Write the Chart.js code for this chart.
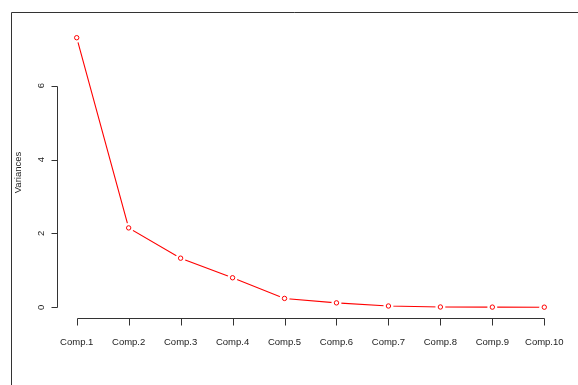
<!DOCTYPE html>
<html>
<head>
<meta charset="utf-8">
<script src="https://cdn.jsdelivr.net/npm/chart.js@4/dist/chart.umd.min.js"></script>
<style>
  html, body { margin: 0; padding: 0; background: #fff; }
  canvas { display: block; }
</style>
</head>
<body>
<canvas id="scree" width="578" height="385"></canvas>
<script>
var categories = ['Comp.1', 'Comp.2', 'Comp.3', 'Comp.4', 'Comp.5', 'Comp.6', 'Comp.7', 'Comp.8', 'Comp.9', 'Comp.10'];
var variances = [7.30, 2.15, 1.33, 0.80, 0.24, 0.12, 0.035, 0.008, 0.005, 0.003];
var yTicks = [0, 2, 4, 6];
var yTitle = 'Variances';

var points = variances.map(function (v, i) { return { x: i + 1, y: v }; });
var font = '9.5px "Liberation Sans", Arial, sans-serif';

// R-style axes, frame and labels, drawn from the chart's own scales
var rAxes = {
    id: 'rAxes',
    afterDraw: function (chart) {
        var c = chart.ctx;
        var xs = chart.scales.x, ys = chart.scales.y;
        var area = chart.chartArea;
        c.save();
        c.strokeStyle = '#333';
        c.fillStyle = '#222';
        c.lineWidth = 1;

        // outer frame (only top and left visible)
        c.beginPath();
        c.moveTo(11.5, 385);
        c.lineTo(11.5, 12.5);
        c.lineTo(578, 12.5);
        c.stroke();

        // x axis
        var xb = Math.round(area.bottom) + 0.5;
        var x1 = Math.round(xs.getPixelForValue(1)) + 0.5;
        var xn = Math.round(xs.getPixelForValue(categories.length)) + 0.5;
        c.beginPath();
        c.moveTo(x1, xb);
        c.lineTo(xn, xb);
        categories.forEach(function (lab, i) {
            var px = Math.round(xs.getPixelForValue(i + 1)) + 0.5;
            c.moveTo(px, xb);
            c.lineTo(px, xb + 7);
        });
        c.stroke();
        c.font = font;
        c.textAlign = 'center';
        c.textBaseline = 'middle';
        categories.forEach(function (lab, i) {
            c.fillText(lab, xs.getPixelForValue(i + 1), xb + 24);
        });

        // y axis
        var yl = Math.round(area.left) - 0.5;
        var y0 = Math.round(ys.getPixelForValue(yTicks[0])) + 0.5;
        var yt = Math.round(ys.getPixelForValue(yTicks[yTicks.length - 1])) + 0.5;
        c.beginPath();
        c.moveTo(yl, y0);
        c.lineTo(yl, yt);
        yTicks.forEach(function (t) {
            var py = Math.round(ys.getPixelForValue(t)) + 0.5;
            c.moveTo(yl, py);
            c.lineTo(yl - 6, py);
        });
        c.stroke();
        yTicks.forEach(function (t) {
            c.save();
            c.translate(yl - 16, ys.getPixelForValue(t));
            c.rotate(-Math.PI / 2);
            c.fillText(String(t), 0, 0);
            c.restore();
        });

        // y title
        c.save();
        c.translate(18, (area.top + area.bottom) / 2);
        c.rotate(-Math.PI / 2);
        c.fillText(yTitle, 0, 0);
        c.restore();

        c.restore();
    }
};

var chart = new Chart(document.getElementById('scree').getContext('2d'), {
    type: 'line',
    data: {
        datasets: [{
            // red circles
            data: points,
            showLine: false,
            pointRadius: 2.2,
            pointBorderWidth: 1,
            pointBorderColor: '#ff0000',
            pointBackgroundColor: '#ffffff',
            order: 1
        }, {
            // white halo to leave gaps in the line (type = "b")
            data: points,
            showLine: false,
            pointRadius: 5,
            pointBorderWidth: 0,
            pointBackgroundColor: '#ffffff',
            pointBorderColor: '#ffffff',
            order: 2
        }, {
            data: points,
            borderColor: '#ff0000',
            borderWidth: 1.1,
            pointRadius: 0,
            tension: 0,
            fill: false,
            order: 3
        }]
    },
    options: {
        responsive: false,
        animation: false,
        events: [],
        layout: {
            padding: { left: 58, top: 27, right: 15, bottom: 67 }
        },
        plugins: {
            legend: { display: false },
            tooltip: { enabled: false }
        },
        scales: {
            x: { type: 'linear', min: 0.64, max: 10.36, display: false },
            y: { type: 'linear', min: -0.29, max: 7.59, display: false }
        }
    },
    plugins: [rAxes]
});
</script>
</body>
</html>
